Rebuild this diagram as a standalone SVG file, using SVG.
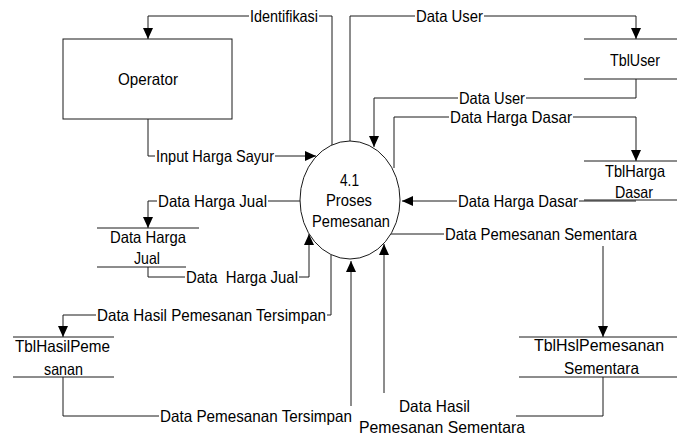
<svg xmlns="http://www.w3.org/2000/svg" width="677" height="436" viewBox="0 0 677 436">
<style>
text{font-family:"Liberation Sans",Arial,sans-serif;font-size:16.5px;fill:#000;white-space:pre}
.ln{fill:none;stroke:#1a1a1a;stroke-width:1}
.st{stroke:#1a1a1a;stroke-width:1}
.arr{marker-end:url(#ah)}
</style>
<defs>
<marker id="ah" markerUnits="userSpaceOnUse" markerWidth="11" markerHeight="10" refX="11" refY="5" orient="auto">
<path d="M0,0 L11,5 L0,10 z" fill="#000"/>
</marker>
</defs>
<rect width="677" height="436" fill="#fff"/>

<g id="connectors">
<path class="ln" d="M332,145 V16 H319"/>
<path class="ln arr" d="M249,16 H148 V39"/>
<path class="ln" d="M350,142 V16 H415"/>
<path class="ln arr" d="M484,16 H636 V39"/>
<path class="ln" d="M636,79 V98 H526"/>
<path class="ln arr" d="M458,98 H374 V147"/>
<path class="ln" d="M394,168 V117 H449"/>
<path class="ln arr" d="M573,117 H636 V161"/>
<path class="ln" d="M636,201 H579"/>
<path class="ln arr" d="M457,201 H402"/>
<path class="ln" d="M391,234 H444"/>
<path class="ln arr" d="M603,246 V337"/>
<path class="ln" d="M148,119 V156 H155"/>
<path class="ln arr" d="M275,156 H316"/>
<path class="ln" d="M300,201 H268"/>
<path class="ln arr" d="M157,201 H148 V228"/>
<path class="ln" d="M148,267 V277 H185"/>
<path class="ln arr" d="M299,277 H309 V234"/>
<path class="ln" d="M331,255 V315 H327"/>
<path class="ln arr" d="M96,315 H63 V337"/>
<path class="ln" d="M63,377 V416 H159"/>
<path class="ln arr" d="M351,406 V261"/>
<path class="ln" d="M603,377 V416 H516"/>
<path class="ln arr" d="M384,393 V244"/>

<text x="250" y="22" textLength="68" lengthAdjust="spacingAndGlyphs">Identifikasi</text>
<text x="416" y="22" textLength="67" lengthAdjust="spacingAndGlyphs">Data User</text>
<text x="459" y="104" textLength="66" lengthAdjust="spacingAndGlyphs">Data User</text>
<text x="450" y="123" textLength="122" lengthAdjust="spacingAndGlyphs">Data Harga Dasar</text>
<text x="458" y="207" textLength="120" lengthAdjust="spacingAndGlyphs">Data Harga Dasar</text>
<text x="445" y="240" textLength="192" lengthAdjust="spacingAndGlyphs">Data Pemesanan Sementara</text>
<text x="156" y="162" textLength="118" lengthAdjust="spacingAndGlyphs">Input Harga Sayur</text>
<text x="158" y="207" textLength="109" lengthAdjust="spacingAndGlyphs">Data Harga Jual</text>
<text x="186" y="283" textLength="112" lengthAdjust="spacingAndGlyphs">Data  Harga Jual</text>
<text x="97" y="321" textLength="229" lengthAdjust="spacingAndGlyphs">Data Hasil Pemesanan Tersimpan</text>
<text x="160" y="422" textLength="192" lengthAdjust="spacingAndGlyphs">Data Pemesanan Tersimpan</text>
<text x="399" y="412" textLength="71" lengthAdjust="spacingAndGlyphs">Data Hasil</text>
<text x="359" y="433" textLength="166" lengthAdjust="spacingAndGlyphs">Pemesanan Sementara</text>
</g>

<g id="operator">
<rect x="63" y="39" width="169" height="80" fill="#fff" stroke="#1a1a1a" stroke-width="1"/>
<text x="118" y="85" textLength="60" lengthAdjust="spacingAndGlyphs">Operator</text>
</g>

<g id="proses">
<ellipse cx="350" cy="200" rx="50" ry="59" fill="#fff" stroke="#1a1a1a" stroke-width="1"/>
<text x="340" y="186" textLength="19" lengthAdjust="spacingAndGlyphs">4.1</text>
<text x="326" y="206" textLength="46" lengthAdjust="spacingAndGlyphs">Proses</text>
<text x="312" y="227" textLength="78" lengthAdjust="spacingAndGlyphs">Pemesanan</text>
</g>

<g id="tbluser">
<line class="st" x1="584" y1="39" x2="677" y2="39"/>
<line class="st" x1="584" y1="79" x2="677" y2="79"/>
<text x="610" y="66" textLength="50" lengthAdjust="spacingAndGlyphs">TblUser</text>
</g>

<g id="tblhargadasar">
<line class="st" x1="584" y1="161" x2="677" y2="161"/>
<line class="st" x1="584" y1="200" x2="677" y2="200"/>
<text x="605" y="177" textLength="60" lengthAdjust="spacingAndGlyphs">TblHarga</text>
<text x="615" y="198" textLength="38" lengthAdjust="spacingAndGlyphs">Dasar</text>
</g>

<g id="datahargajual">
<line class="st" x1="97" y1="228" x2="199" y2="228"/>
<line class="st" x1="97" y1="267" x2="186" y2="267"/>
<text x="110" y="243" textLength="76" lengthAdjust="spacingAndGlyphs">Data Harga</text>
<text x="134" y="264" textLength="26" lengthAdjust="spacingAndGlyphs">Jual</text>
</g>

<g id="tblhasilpemesanan">
<line class="st" x1="13" y1="337" x2="114" y2="337"/>
<line class="st" x1="13" y1="377" x2="114" y2="377"/>
<text x="15" y="352" textLength="95" lengthAdjust="spacingAndGlyphs">TblHasilPeme</text>
<text x="44" y="375" textLength="39" lengthAdjust="spacingAndGlyphs">sanan</text>
</g>

<g id="tblhslpemesanansementara">
<line class="st" x1="519" y1="337" x2="677" y2="337"/>
<line class="st" x1="519" y1="377" x2="677" y2="377"/>
<text x="534" y="351" textLength="130" lengthAdjust="spacingAndGlyphs">TblHslPemesanan</text>
<text x="564" y="374" textLength="75" lengthAdjust="spacingAndGlyphs">Sementara</text>
</g>
</svg>
